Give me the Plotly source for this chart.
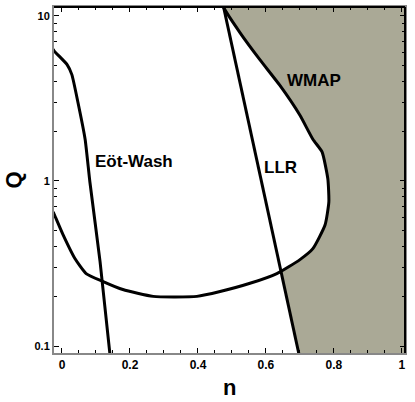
import math
import plotly.graph_objects as go

# Eot-Wash bound (n, Q)
ew_n = [-0.026, -0.0235, 0.015, 0.029, 0.047, 0.068, 0.082, 0.112, 0.141, 0.143]
ew_q = [6.3, 6.15, 5.07, 4.41, 2.99, 1.79, 0.99, 0.325, 0.0895, 0.085]

# WMAP contour, from the left edge round to the top edge
wmap_n = [-0.026, -0.0235, 0.003, 0.038, 0.071, 0.121, 0.179, 0.268, 0.397, 0.465, 0.553,
          0.632, 0.700, 0.738, 0.774, 0.785, 0.782, 0.765, 0.738, 0.700, 0.641, 0.582,
          0.524, 0.476, 0.470]
wmap_q = [0.65, 0.633, 0.473, 0.339, 0.275, 0.246, 0.220, 0.200, 0.200, 0.214, 0.240,
          0.275, 0.334, 0.389, 0.543, 0.747, 1.03, 1.50, 1.79, 2.50, 3.79, 5.43,
          7.90, 11.2, 12.0]

# LLR bound
llr_n = [0.4727, 0.6993]
llr_q = [12.0, 0.085]

# point where LLR cuts the WMAP contour
cross_n, cross_q = 0.645, 0.28

# excluded (shaded) region: right of WMAP above the crossing, right of LLR below
shade_n = [llr_n[1], cross_n] + wmap_n[12:] + [1.1, 1.1]
shade_q = [llr_q[1], cross_q] + wmap_q[12:] + [12.0, 0.085]

# region labels (text, n, Q)
labels = [('Eöt-Wash', 0.212, 1.32), ('LLR', 0.644, 1.21), ('WMAP', 0.741, 4.06)]

fig = go.Figure()

fig.add_trace(go.Scatter(x=shade_n, y=shade_q, fill='toself', mode='lines',
                         fillcolor='#aaa996', line=dict(width=0), hoverinfo='skip'))

# smooth curves for the two contours, straight line for LLR
for xs, ys, shape in [(wmap_n, wmap_q, 'spline'), (ew_n, ew_q, 'spline'),
                      (llr_n, llr_q, 'linear')]:
    fig.add_trace(go.Scatter(x=xs, y=ys, mode='lines',
                             line=dict(color='black', width=3, shape=shape,
                                       smoothing=0.5)))

bold = dict(family='Arial', color='black', weight='bold')

# annotations on a log axis take log10 positions
for txt, xn, yq in labels:
    fig.add_annotation(x=xn, y=math.log10(yq), text=txt, showarrow=False,
                       font=dict(size=17, **bold))

fig.add_annotation(x=0.5, y=-0.1, xref='paper', yref='paper', text='n',
                   xanchor='center', yanchor='middle',
                   showarrow=False, font=dict(size=22, **bold))
fig.add_annotation(x=-0.118, y=0.5, xref='paper', yref='paper', text='Q', textangle=-90,
                   xanchor='center', yanchor='middle',
                   showarrow=False, font=dict(size=22, **bold))

# black top/right frame lines
fig.add_shape(type='line', xref='paper', yref='paper', x0=0, x1=1, y0=1, y1=1,
              line=dict(color='black', width=2))
fig.add_shape(type='line', xref='paper', yref='paper', x0=1, x1=1, y0=0, y1=1,
              line=dict(color='black', width=2))

minor_q = [m * d for d in (0.1, 1) for m in range(2, 10)]

fig.update_layout(
    width=415, height=402,
    margin=dict(l=54, r=10, t=5, b=49),
    showlegend=False,
    plot_bgcolor='white', paper_bgcolor='white',
    xaxis=dict(range=[-0.0235, 1.009], tickvals=[0, 0.2, 0.4, 0.6, 0.8, 1],
               ticktext=['0', '0.2', '0.4', '0.6', '0.8', '1'],
               ticks='inside', ticklen=5, tickcolor='black', mirror='allticks',
               showline=True, linecolor='#888888', linewidth=2,
               showgrid=False, zeroline=False,
               minor=dict(dtick=0.05, ticks='inside', ticklen=3, tickcolor='black'),
               tickfont=dict(size=12, **bold)),
    yaxis=dict(type='log', range=[-1.042, 1.054], tickvals=[0.1, 1, 10],
               ticktext=['0.1', '1', '10'],
               ticks='inside', ticklen=5, tickcolor='black', mirror='allticks',
               showline=True, linecolor='#888888', linewidth=2,
               showgrid=False, zeroline=False,
               minor=dict(tickvals=minor_q, ticks='inside', ticklen=3, tickcolor='black'),
               tickfont=dict(size=11, **bold)),
)

# the page's default body margin would shift the figure by 8px
fig.write_html("out.html", config={'displayModeBar': False},
               post_script="document.body.style.margin='0';")
